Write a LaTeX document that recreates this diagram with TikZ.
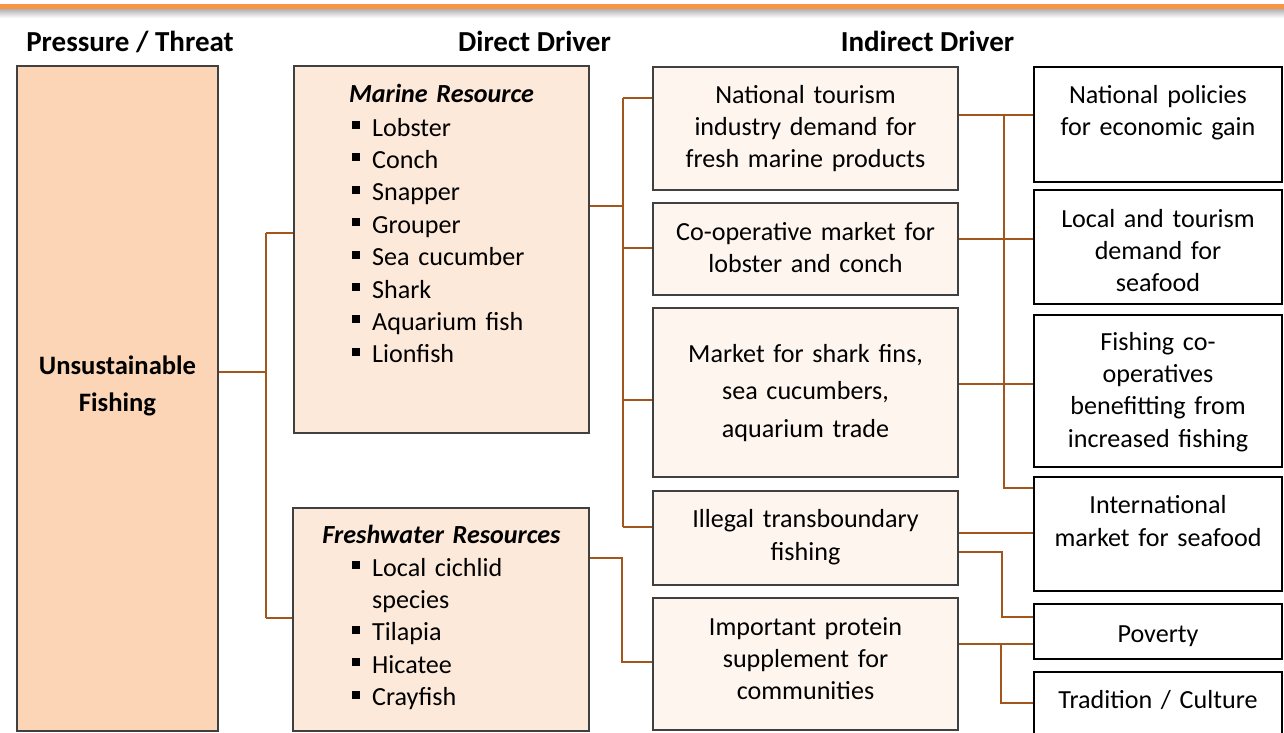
\documentclass[tikz,border=0pt]{standalone}
\usepackage{fontspec}
\setmainfont{Carlito}
\definecolor{conn}{RGB}{163,86,28}
\definecolor{barorange}{RGB}{247,150,70}
\definecolor{pfill}{RGB}{251,213,181}
\definecolor{dfill}{RGB}{253,233,217}
\definecolor{ifill}{RGB}{254,245,239}
\definecolor{boxgray}{RGB}{64,64,64}
\newcommand\sqb{\makebox[20pt][l]{\raisebox{7pt}{\rule{8pt}{8pt}}}}
\newcommand\boxnode[6]{\node[#1, minimum width={#5-#3}, minimum height={#6-#4}] (#2) at ({(#3+#5)/2},{(#4+#6)/2}) {};}
\tikzset{
  txt/.style={font=\fontsize{26.1}{32.4}\selectfont, inner sep=0pt, anchor=base, align=center},
  hdr/.style={font=\fontsize{29}{35}\selectfont\bfseries, inner sep=0pt, anchor=base},
  pbox/.style={draw=boxgray, line width=1.5pt, fill=pfill, inner sep=0pt},
  dbox/.style={draw=boxgray, line width=1.5pt, fill=dfill, inner sep=0pt},
  ibox/.style={draw=boxgray, line width=1.8pt, fill=ifill, inner sep=0pt},
  rbox/.style={draw=black, line width=2.2pt, fill=white, inner sep=0pt},
  conn/.style={draw=conn, line width=2pt}
}
\begin{document}
\begin{tikzpicture}[x=1pt,y=-1pt]
\useasboundingbox (0,0) rectangle (1284,732);
% top bar
\fill[barorange] (0,4) rectangle (1284,9);
\shade[top color=black!30, bottom color=white] (0,9) rectangle (1284,18);
% headers
\node[hdr] (hP) at (130,51) {Pressure / Threat};
\node[hdr] (hD) at (534.5,51) {Direct Driver};
\node[hdr] (hI) at (927.5,51) {Indirect Driver};
% boxes
\boxnode{pbox}{P}{17}{66}{218}{731}
\boxnode{dbox}{M}{294}{66}{589}{433}
\boxnode{dbox}{F}{293}{508}{589}{731}
\boxnode{ibox}{I1}{653}{67}{958}{190}
\boxnode{ibox}{I2}{653}{203}{958}{295}
\boxnode{ibox}{I3}{653}{308}{958}{477}
\boxnode{ibox}{I4}{653}{491}{958}{585}
\boxnode{ibox}{I5}{653}{598}{958}{730}
\boxnode{rbox}{R1}{1034}{67}{1282}{182}
\boxnode{rbox}{R2}{1034}{190}{1282}{304}
\boxnode{rbox}{R3}{1034}{315}{1282}{467}
\boxnode{rbox}{R4}{1034}{477}{1282}{591}
\boxnode{rbox}{R5}{1034}{604}{1282}{659}
\boxnode{rbox}{R6}{1034}{672}{1282}{745}
% texts
\node[txt, text width=190pt, font=\fontsize{26.6}{37}\selectfont\bfseries] (tP) at (117.5,374) {Unsustainable\\Fishing};
\node[txt, text width=280pt, font=\fontsize{26.1}{32.4}\selectfont\bfseries\itshape] (tMh) at (441.5,102) {Marine Resource};
\node[txt, anchor=base west, align=left, text width=230pt] (tMl) at (352,136) {\sqb Lobster\\\sqb Conch\\\sqb Snapper\\\sqb Grouper\\\sqb Sea cucumber\\\sqb Shark\\\sqb Aquarium fish\\\sqb Lionfish};
\node[txt, text width=280pt, font=\fontsize{26.1}{32.4}\selectfont\bfseries\itshape] (tFh) at (441.5,543) {Freshwater Resources};
\node[txt, anchor=base west, align=left, text width=230pt] (tFl) at (352,576) {\sqb Local cichlid\\\hspace*{20pt}species\\\sqb Tilapia\\\sqb Hicatee\\\sqb Crayfish};
\node[txt, text width=290pt] (tI1) at (805.5,103) {National tourism\\industry demand for\\fresh marine products};
\node[txt, text width=290pt] (tI2) at (805.5,240) {Co-operative market for\\lobster and conch};
\node[txt, text width=290pt, font=\fontsize{26.1}{37.5}\selectfont] (tI3) at (805.5,362) {Market for shark fins,\\sea cucumbers,\\aquarium trade};
\node[txt, text width=290pt, font=\fontsize{26.1}{33}\selectfont] (tI4) at (805.5,527) {Illegal transboundary\\fishing};
\node[txt, text width=290pt] (tI5) at (805.5,635) {Important protein\\supplement for\\communities};
\node[txt, text width=240pt] (tR1) at (1158,103) {National policies\\for economic gain};
\node[txt, text width=240pt] (tR2) at (1158,227) {Local and tourism\\demand for\\seafood};
\node[txt, text width=240pt] (tR3) at (1158,350) {Fishing co-\\operatives\\benefitting from\\increased fishing};
\node[txt, text width=240pt, font=\fontsize{26.1}{33}\selectfont] (tR4) at (1158,513) {International\\market for seafood};
\node[txt, text width=240pt] (tR5) at (1158,642) {Poverty};
\node[txt, text width=240pt] (tR6) at (1158,708) {Tradition / Culture};
% connectors: pressure -> direct drivers
\coordinate (a0) at (266,372);
\coordinate (a1) at (266,233);
\coordinate (a2) at (266,618);
\draw[conn] (P.east |- a0) -- (a0);
\draw[conn] (a1) -- (a2);
\draw[conn] (a1) -- (M.west |- a1);
\draw[conn] (a2) -- (F.west |- a2);
% marine -> indirect
\coordinate (b0) at (623,206);
\coordinate (b1) at (623,98);
\coordinate (b2) at (623,248);
\coordinate (b3) at (623,400);
\coordinate (b4) at (623,527);
\draw[conn] (M.east |- b0) -- (b0);
\draw[conn] (b1) -- (b4);
\draw[conn] (b1) -- (I1.west |- b1);
\draw[conn] (b2) -- (I2.west |- b2);
\draw[conn] (b3) -- (I3.west |- b3);
\draw[conn] (b4) -- (I4.west |- b4);
% freshwater -> protein
\coordinate (c1) at (622,558);
\coordinate (c2) at (622,662);
\draw[conn] (F.east |- c1) -- (c1) -- (c2) -- (I5.west |- c2);
% indirect -> right
\coordinate (d1) at (1004,115);
\coordinate (d2) at (1004,239);
\coordinate (d3) at (1004,384);
\coordinate (d4) at (1004,488);
\draw[conn] (I1.east |- d1) -- (R1.west |- d1);
\draw[conn] (I2.east |- d2) -- (R2.west |- d2);
\draw[conn] (I3.east |- d3) -- (R3.west |- d3);
\draw[conn] (d1) -- (d4) -- (R4.west |- d4);
% illegal -> international, poverty
\coordinate (e1) at (1000,533);
\coordinate (e2) at (1002,552);
\coordinate (e3) at (1002,617);
\draw[conn] (I4.east |- e1) -- (R4.west |- e1);
\draw[conn] (I4.east |- e2) -- (e2) -- (e3) -- (R5.west |- e3);
% protein -> poverty, tradition
\coordinate (f1) at (1001,644);
\coordinate (f2) at (1001,703);
\draw[conn] (I5.east |- f1) -- (R5.west |- f1);
\draw[conn] (f1) -- (f2) -- (R6.west |- f2);
\end{tikzpicture}
\end{document}
